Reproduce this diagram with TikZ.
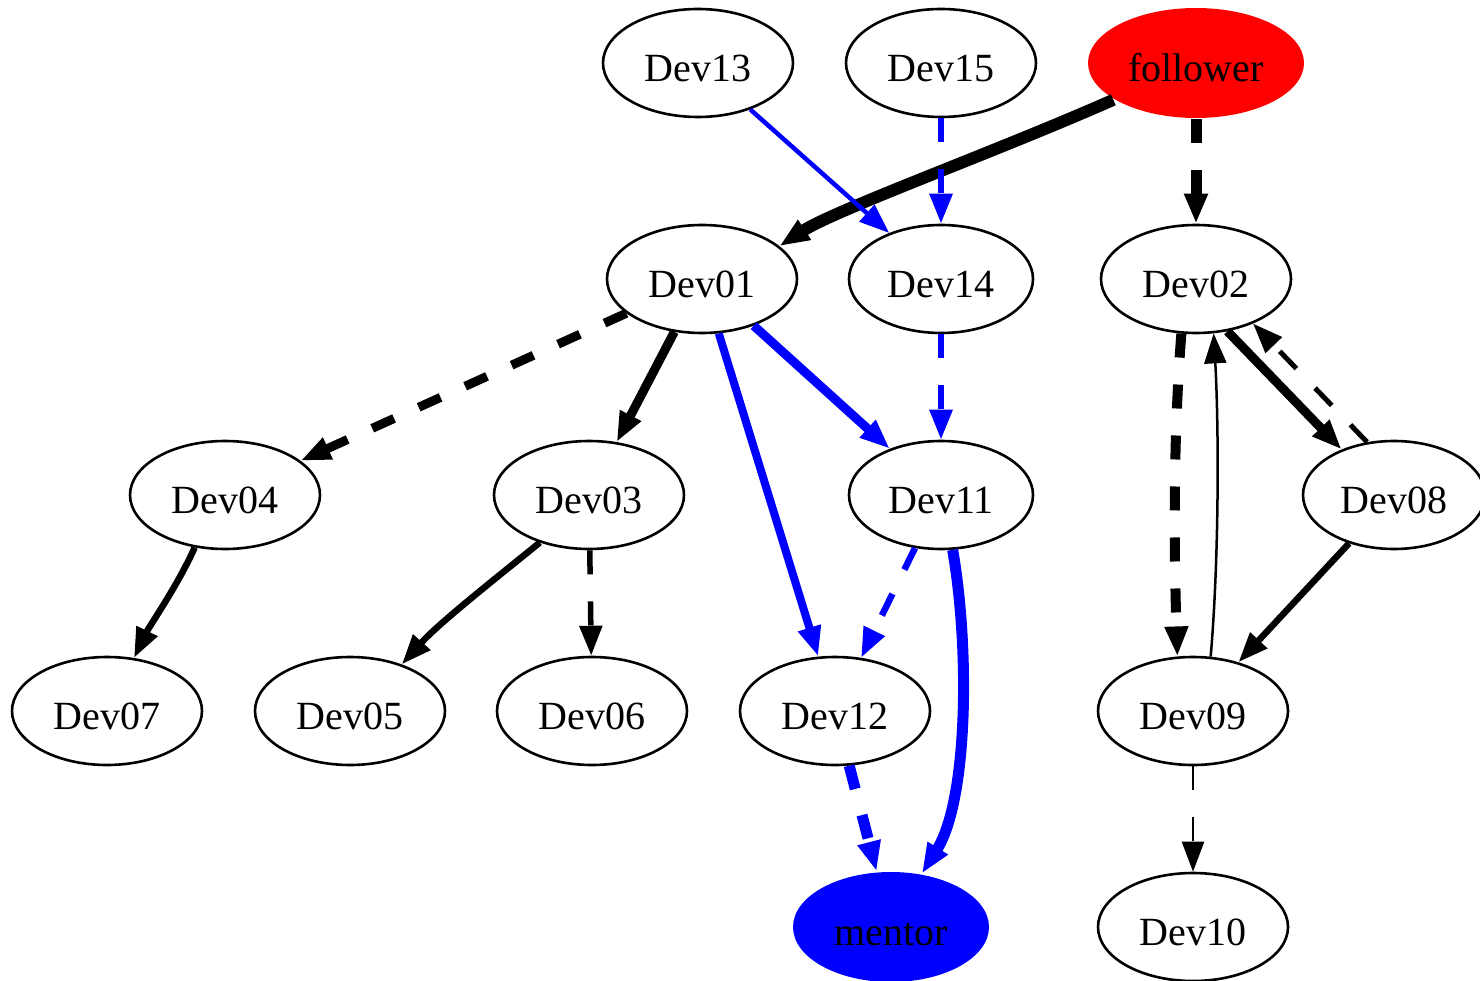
\documentclass[tikz,border=0pt]{standalone}
\usepackage{fontspec}
\setmainfont{Liberation Serif}
\usetikzlibrary{shapes.geometric,arrows.meta}
\begin{document}
\begin{tikzpicture}[x=1pt,y=-1pt,
  dev/.style={ellipse,draw,line width=2.6pt,minimum width=190pt,minimum height=108pt,
    inner sep=0pt,text height=37pt,text depth=0pt,font=\fontsize{40}{48}\selectfont},
  e/.style={-{Triangle[length=30pt,width=22pt]}},
  dsh/.style={dash pattern=on 24pt off 27pt},
]
\useasboundingbox (0,0) rectangle (1480,981);

\node[dev] (Dev13) at (698,63) {Dev13};
\node[dev] (Dev15) at (941,63) {Dev15};
\node[dev,draw=none,fill=red,minimum width=216pt,minimum height=110pt] (follower) at (1196,63) {follower};
\node[dev] (Dev01) at (702,279) {Dev01};
\node[dev,minimum width=184pt] (Dev14) at (941,279) {Dev14};
\node[dev] (Dev02) at (1196,279) {Dev02};
\node[dev] (Dev04) at (225,495) {Dev04};
\node[dev] (Dev03) at (589,495) {Dev03};
\node[dev,minimum width=184pt] (Dev11) at (941,495) {Dev11};
\node[dev,minimum width=182pt] (Dev08) at (1394,495) {Dev08};
\node[dev] (Dev07) at (107,711) {Dev07};
\node[dev] (Dev05) at (350,711) {Dev05};
\node[dev] (Dev06) at (592,711) {Dev06};
\node[dev] (Dev12) at (835,711) {Dev12};
\node[dev] (Dev09) at (1193,711) {Dev09};
\node[dev,draw=none,fill=blue,minimum width=196pt,minimum height=110pt] (mentor) at (891,927) {mentor};
\node[dev] (Dev10) at (1193,927) {Dev10};

% edges
\draw[e,line width=12pt] (follower.-156) .. controls (1000,150) and (835,210) .. (Dev01.23);
\draw[e,dsh,line width=11pt] (follower) -- (Dev02);
\draw[e,blue,line width=4.5pt] (Dev13) -- (Dev14);
\draw[e,dsh,blue,line width=6pt] (Dev15) -- (Dev14);
\draw[e,dsh,line width=9pt] (Dev01) -- (Dev04);
\draw[e,line width=9pt] (Dev01) -- (Dev03);
\draw[e,blue,line width=8pt] (Dev01) -- (Dev12);
\draw[e,blue,line width=9pt] (Dev01) -- (Dev11);
\draw[e,dsh,blue,line width=6pt] (Dev14) -- (Dev11);
\draw[e,dsh,line width=10pt] (Dev02.-105) .. controls (1173,440) and (1174,550) .. (Dev09.106);
\draw[e,line width=2.5pt] (Dev09.72) .. controls (1219,560) and (1219,430) .. (Dev02.-72);
\draw[e,line width=9pt] (Dev02.-59) -- (Dev08.139);
\draw[e,dsh,line width=5pt] (Dev08.117) -- (Dev02.-38);
\draw[e,line width=6.5pt] (Dev08) -- (Dev09);
\draw[e,line width=6.5pt] (Dev04.-120) .. controls (178,585) and (150,625) .. (Dev07.63);
\draw[e,line width=6.5pt] (Dev03.-136) .. controls (500,575) and (440,622) .. (Dev05.42);
\draw[e,dsh,line width=5.5pt] (Dev03) -- (Dev06);
\draw[e,dsh,blue,line width=6.5pt] (Dev11) -- (Dev12);
\draw[e,blue,line width=11pt] (Dev11.-78) .. controls (970,650) and (968,800) .. (mentor.60);
\draw[e,dsh,blue,line width=11pt] (Dev12) -- (mentor);
\draw[e,dsh,line width=2.5pt] (Dev09) -- (Dev10);
\end{tikzpicture}
\end{document}
